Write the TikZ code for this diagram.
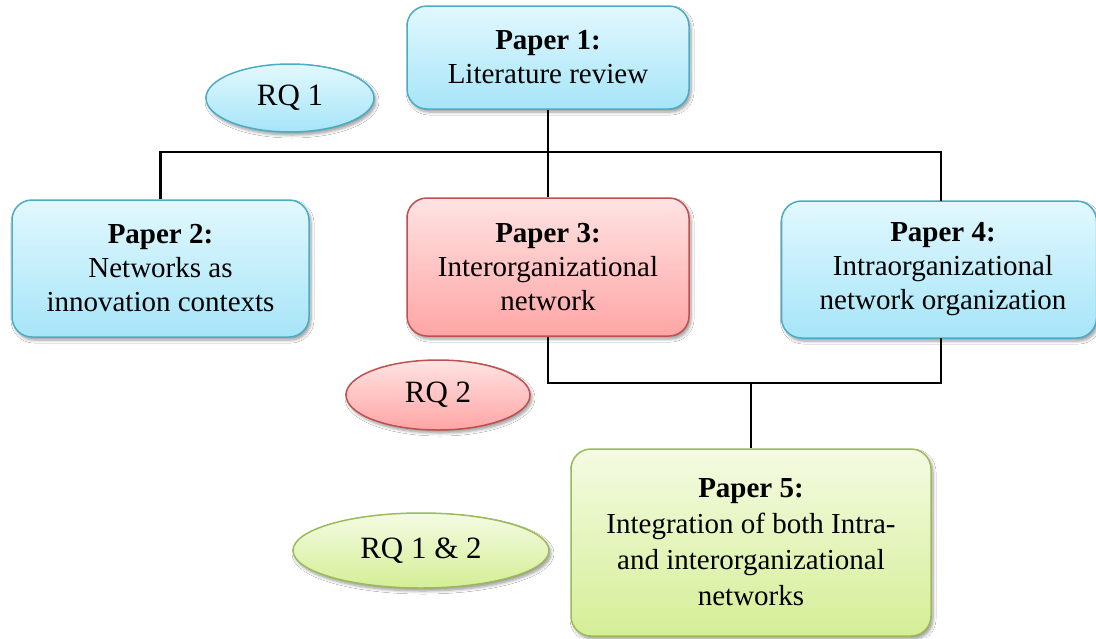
\documentclass[tikz,border=0pt]{standalone}
\usepackage{fontspec}
\setmainfont{Liberation Serif}
\usetikzlibrary{shadows.blur,shapes.geometric}

\definecolor{bluetop}{HTML}{E2F8FE}
\definecolor{bluebot}{HTML}{A6E5F8}
\definecolor{blueedge}{HTML}{4BACC6}
\definecolor{redtop}{HTML}{FFE3E3}
\definecolor{redbot}{HTML}{FFA5A5}
\definecolor{rededge}{HTML}{C0504D}
\definecolor{greentop}{HTML}{F4FBE2}
\definecolor{greenbot}{HTML}{D5EE96}
\definecolor{greenedge}{HTML}{9BBB59}

\tikzset{
  softshadow/.style={blur shadow={shadow xshift=2pt, shadow yshift=-3pt, shadow blur steps=6, shadow blur radius=3pt, shadow opacity=40}},
  paper/.style={rectangle, rounded corners=20pt, line width=1.5pt, align=center,
    inner sep=0pt, softshadow,
    font=\fontsize{29}{34}\selectfont},
  rq/.style={ellipse, line width=1.5pt, inner sep=0pt, softshadow,
    font=\fontsize{31}{36}\selectfont},
  bluefill/.style={draw=blueedge, top color=bluetop, bottom color=bluebot},
  redfill/.style={draw=rededge, top color=redtop, bottom color=redbot},
  greenfill/.style={draw=greenedge, top color=greentop, bottom color=greenbot},
  link/.style={line width=2.5pt, black, line join=miter}
}

\begin{document}
\begin{tikzpicture}[x=1pt, y=-1pt]
\useasboundingbox (0,0) rectangle (1096,638);
\clip (0,0) rectangle (1096,638);
\fill[white] (0,0) rectangle (1096,638);

% papers
\node[paper, bluefill, minimum width=282pt, minimum height=103pt] (p1) at (548,57.5)
  {\textbf{Paper 1:}\\Literature review};
\node[paper, bluefill, minimum width=297pt, minimum height=137pt] (p2) at (160.5,268.5)
  {\textbf{Paper 2:}\\Networks as\\innovation contexts};
\node[paper, redfill, minimum width=282pt, minimum height=138pt] (p3) at (548,267)
  {\textbf{Paper 3:}\\Interorganizational\\network};
\node[paper, bluefill, minimum width=315pt, minimum height=137pt] (p4) at (939,269.5)
  {\hspace*{8pt}\textbf{Paper 4:}\\\hspace*{8pt}Intraorganizational\\\hspace*{8pt}network organization};
\node[paper, greenfill, minimum width=360pt, minimum height=187pt,
      font=\fontsize{29}{36}\selectfont] (p5) at (751,542.5)
  {\textbf{Paper 5:}\\Integration of both Intra-\\and interorganizational\\networks};

% research questions
\node[rq, bluefill, minimum width=168pt, minimum height=68pt] (rq1) at (290,98) {RQ 1};
\node[rq, redfill, minimum width=184pt, minimum height=70pt] (rq2) at (438,395) {RQ 2};
\node[rq, greenfill, minimum width=256pt, minimum height=75pt] (rq12) at (421,550.5) {RQ 1 \& 2};

% junction points of the tree connectors
\coordinate (topbar) at (548,152);
\coordinate (leftbar) at (p2.north |- topbar);
\coordinate (rightbar) at (941,152);
\coordinate (p4top) at (941,201);
\coordinate (p4bot) at (941,338);
\coordinate (lowleft) at (548,383);
\coordinate (lowright) at (941,383);
\coordinate (lowmid) at (751,383);

% tree connectors
\draw[link] (p1.south) -- (topbar);
\draw[link] (p2.north) -- (leftbar) -- (rightbar) -- (p4top);
\draw[link] (topbar) -- (p3.north);
\draw[link] (p3.south) -- (lowleft) -- (lowright) -- (p4bot);
\draw[link] (lowmid) -- (p5.north);
\end{tikzpicture}
\end{document}
